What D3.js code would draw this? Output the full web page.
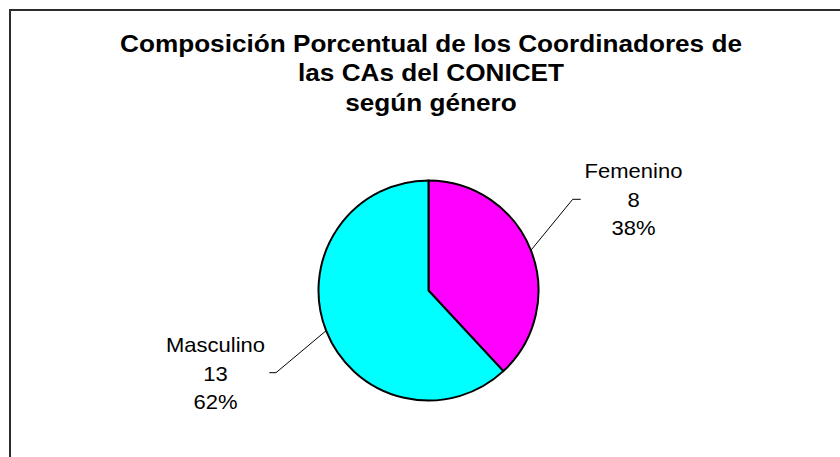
<!DOCTYPE html>
<html>
<head>
<meta charset="utf-8">
<script src="https://cdn.jsdelivr.net/npm/d3@7"></script>
<style>
  html, body { margin: 0; padding: 0; background: #fff; }
  svg { display: block; }
  text { font-family: "Liberation Sans", Arial, sans-serif; fill: #000; }
</style>
</head>
<body>
<svg id="chart" width="840" height="457"></svg>
<script>
const titleLines = ["Composición Porcentual de los Coordinadores de", "las CAs del CONICET", "según género"];
const categories = ["Femenino", "Masculino"];
const counts = [8, 13];
const colors = ["#FF00FF", "#00FFFF"];

const svg = d3.select("#chart");
const W = 840, H = 457;

svg.append("rect").attr("x", 0).attr("y", 0).attr("width", W).attr("height", H).attr("fill", "#fff");
svg.append("rect").attr("x", 10).attr("y", 10).attr("width", W).attr("height", H)
  .attr("fill", "none").attr("stroke", "#2b2b2b").attr("stroke-width", 2);

// Title
const tx = 431, sx = 1.09;
titleLines.forEach((t, i) => {
  svg.append("text")
    .attr("transform", `translate(${tx},${51.5 + i * 29.5}) scale(${sx},1)`)
    .attr("text-anchor", "middle")
    .attr("font-size", 24).attr("font-weight", "bold")
    .text(t);
});

// Pie
const cx = 428.5, cy = 290.5, r = 110;
const data = categories.map((c, i) => ({ cat: c, val: counts[i], color: colors[i] }));
const total = d3.sum(counts);
const pie = d3.pie().sort(null).value(d => d.val).startAngle(0).endAngle(2 * Math.PI);
const arcs = pie(data);
const arc = d3.arc().innerRadius(0).outerRadius(r);

const g = svg.append("g").attr("transform", `translate(${cx},${cy})`);
g.selectAll("path").data(arcs).enter().append("path")
  .attr("d", arc)
  .attr("fill", d => d.data.color)
  .attr("stroke", "#000").attr("stroke-width", 2).attr("stroke-linejoin", "round");

// Labels with leader lines
const labelCfg = [
  { bend: [572.7, 199.3], end: [580.7, 199.3], lx: 633.5, ly: 178 },
  { bend: [276, 372.7], end: [269.3, 372.7], lx: 215.5, ly: 352 }
];
arcs.forEach((a, i) => {
  const mid = (a.startAngle + a.endAngle) / 2;
  const px = cx + r * Math.sin(mid), py = cy - r * Math.cos(mid);
  const cfg = labelCfg[i];
  svg.append("path")
    .attr("d", d3.line()([[px, py], cfg.bend, cfg.end]))
    .attr("fill", "none").attr("stroke", "#000").attr("stroke-width", 1);
  const lines = [a.data.cat, String(a.data.val), Math.round(a.data.val / total * 100) + "%"];
  lines.forEach((t, j) => {
    svg.append("text")
      .attr("transform", `translate(${cfg.lx},${cfg.ly + j * 28.5}) scale(1.1,1)`)
      .attr("text-anchor", "middle")
      .attr("font-size", 20)
      .text(t);
  });
});
</script>
</body>
</html>
